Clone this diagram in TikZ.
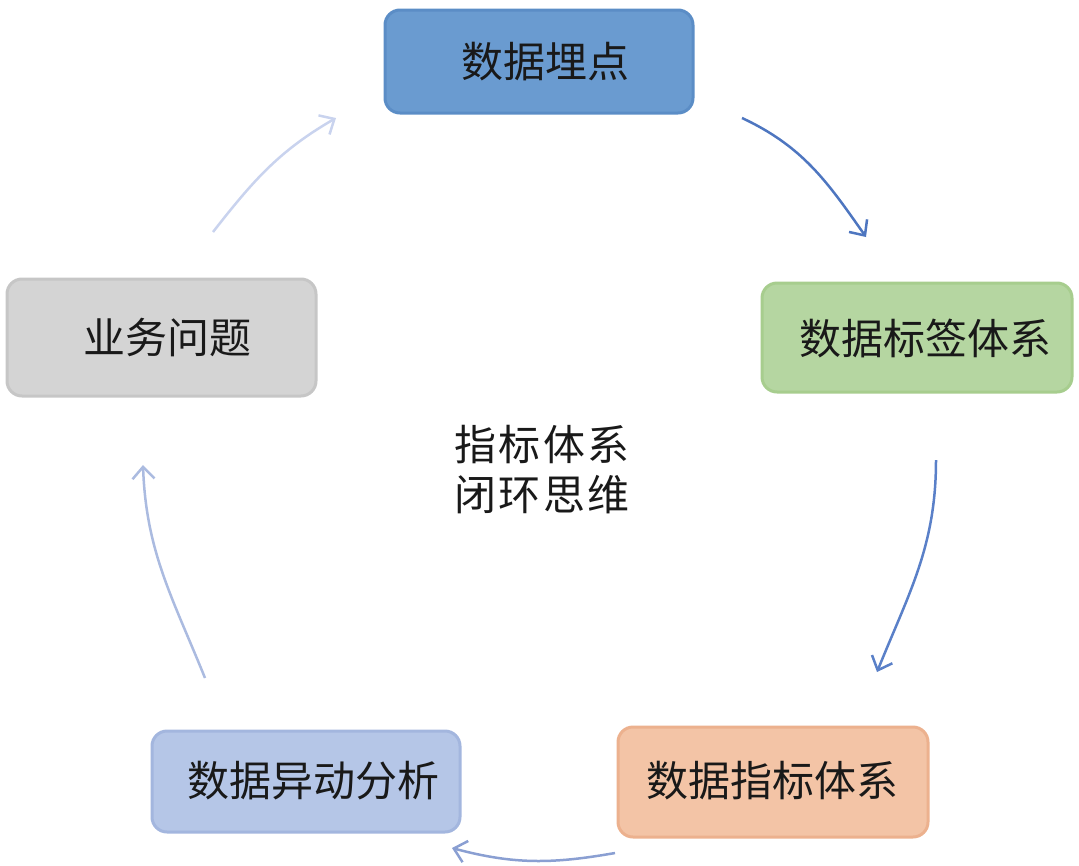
\documentclass[tikz,border=0pt]{standalone}
\usepackage{fontspec}
\setmainfont{Noto Sans CJK SC}
\newfontfamily\spaced[LetterSpace=6]{Noto Sans CJK SC}
\usetikzlibrary{arrows.meta}
\definecolor{bfill}{HTML}{6A9BD0}\definecolor{bdraw}{HTML}{5B8DC6}
\definecolor{gfill}{HTML}{B5D6A1}\definecolor{gdraw}{HTML}{A7CD8E}
\definecolor{yfill}{HTML}{D4D4D4}\definecolor{ydraw}{HTML}{C6C6C6}
\definecolor{pfill}{HTML}{F3C4A6}\definecolor{pdraw}{HTML}{ECB18E}
\definecolor{lfill}{HTML}{B5C6E7}\definecolor{ldraw}{HTML}{A3B6DE}
\definecolor{aone}{HTML}{4E76C0}\definecolor{atwo}{HTML}{5A80C8}
\definecolor{athree}{HTML}{8A9FD2}\definecolor{afour}{HTML}{ABBBE0}
\definecolor{afive}{HTML}{C9D3EE}
\tikzset{
  box/.style={rounded corners=15pt, line width=3pt},
  lbl/.style={inner sep=0pt, font=\fontsize{42}{50}\selectfont, text=black!90},
  ctr/.style={inner sep=0pt, font=\spaced\fontsize{42}{50}\selectfont, text=black!90},
  flow/.style={line width=2.5pt, -{Straight Barb[length=12pt,width=22pt,line width=2.5pt]}}
}
\begin{document}
\begin{tikzpicture}[x=1pt,y=1pt]
\useasboundingbox (0,0) rectangle (1079,-865);
% boxes
\draw[box, fill=bfill, draw=bdraw] (385,-10) rectangle (693,-113);
\node[lbl] (n1) at (545,-62) {数据埋点};
\draw[box, fill=gfill, draw=gdraw] (762,-283) rectangle (1072,-392);
\node[lbl] (n2) at (925,-338) {数据标签体系};
\draw[box, fill=yfill, draw=ydraw] (7,-279) rectangle (316,-396);
\node[lbl] (n3) at (167,-338) {业务问题};
\draw[box, fill=pfill, draw=pdraw] (618,-727) rectangle (928,-837);
\node[lbl] (n4) at (772,-781) {数据指标体系};
\draw[box, fill=lfill, draw=ldraw] (152,-731) rectangle (460,-832);
\node[lbl] (n5) at (313,-781) {数据异动分析};
\node[ctr] (c1) at (542,-445) {指标体系};
\node[ctr] (c2) at (542,-495) {闭环思维};
% arrow end points
\coordinate (a1s) at (742,-118); \coordinate (a1e) at (866,-237);
\coordinate (a2s) at (936,-460); \coordinate (a2e) at (877,-672);
\coordinate (a3s) at (615,-853); \coordinate (a3e) at (452,-848);
\coordinate (a4s) at (205,-678); \coordinate (a4e) at (143,-465);
\coordinate (a5s) at (213,-232); \coordinate (a5e) at (336,-118);
\draw[flow, aone] (a1s) to[out=-25, in=125] (a1e);
\draw[flow, atwo] (a2s) to[out=-90, in=68] (a2e);
\draw[flow, athree] (a3s) to[out=190, in=-15] (a3e);
\draw[flow, afour] (a4s) to[out=112, in=-88] (a4e);
\draw[flow, afive] (a5s) to[out=52, in=210] (a5e);
\end{tikzpicture}
\end{document}
